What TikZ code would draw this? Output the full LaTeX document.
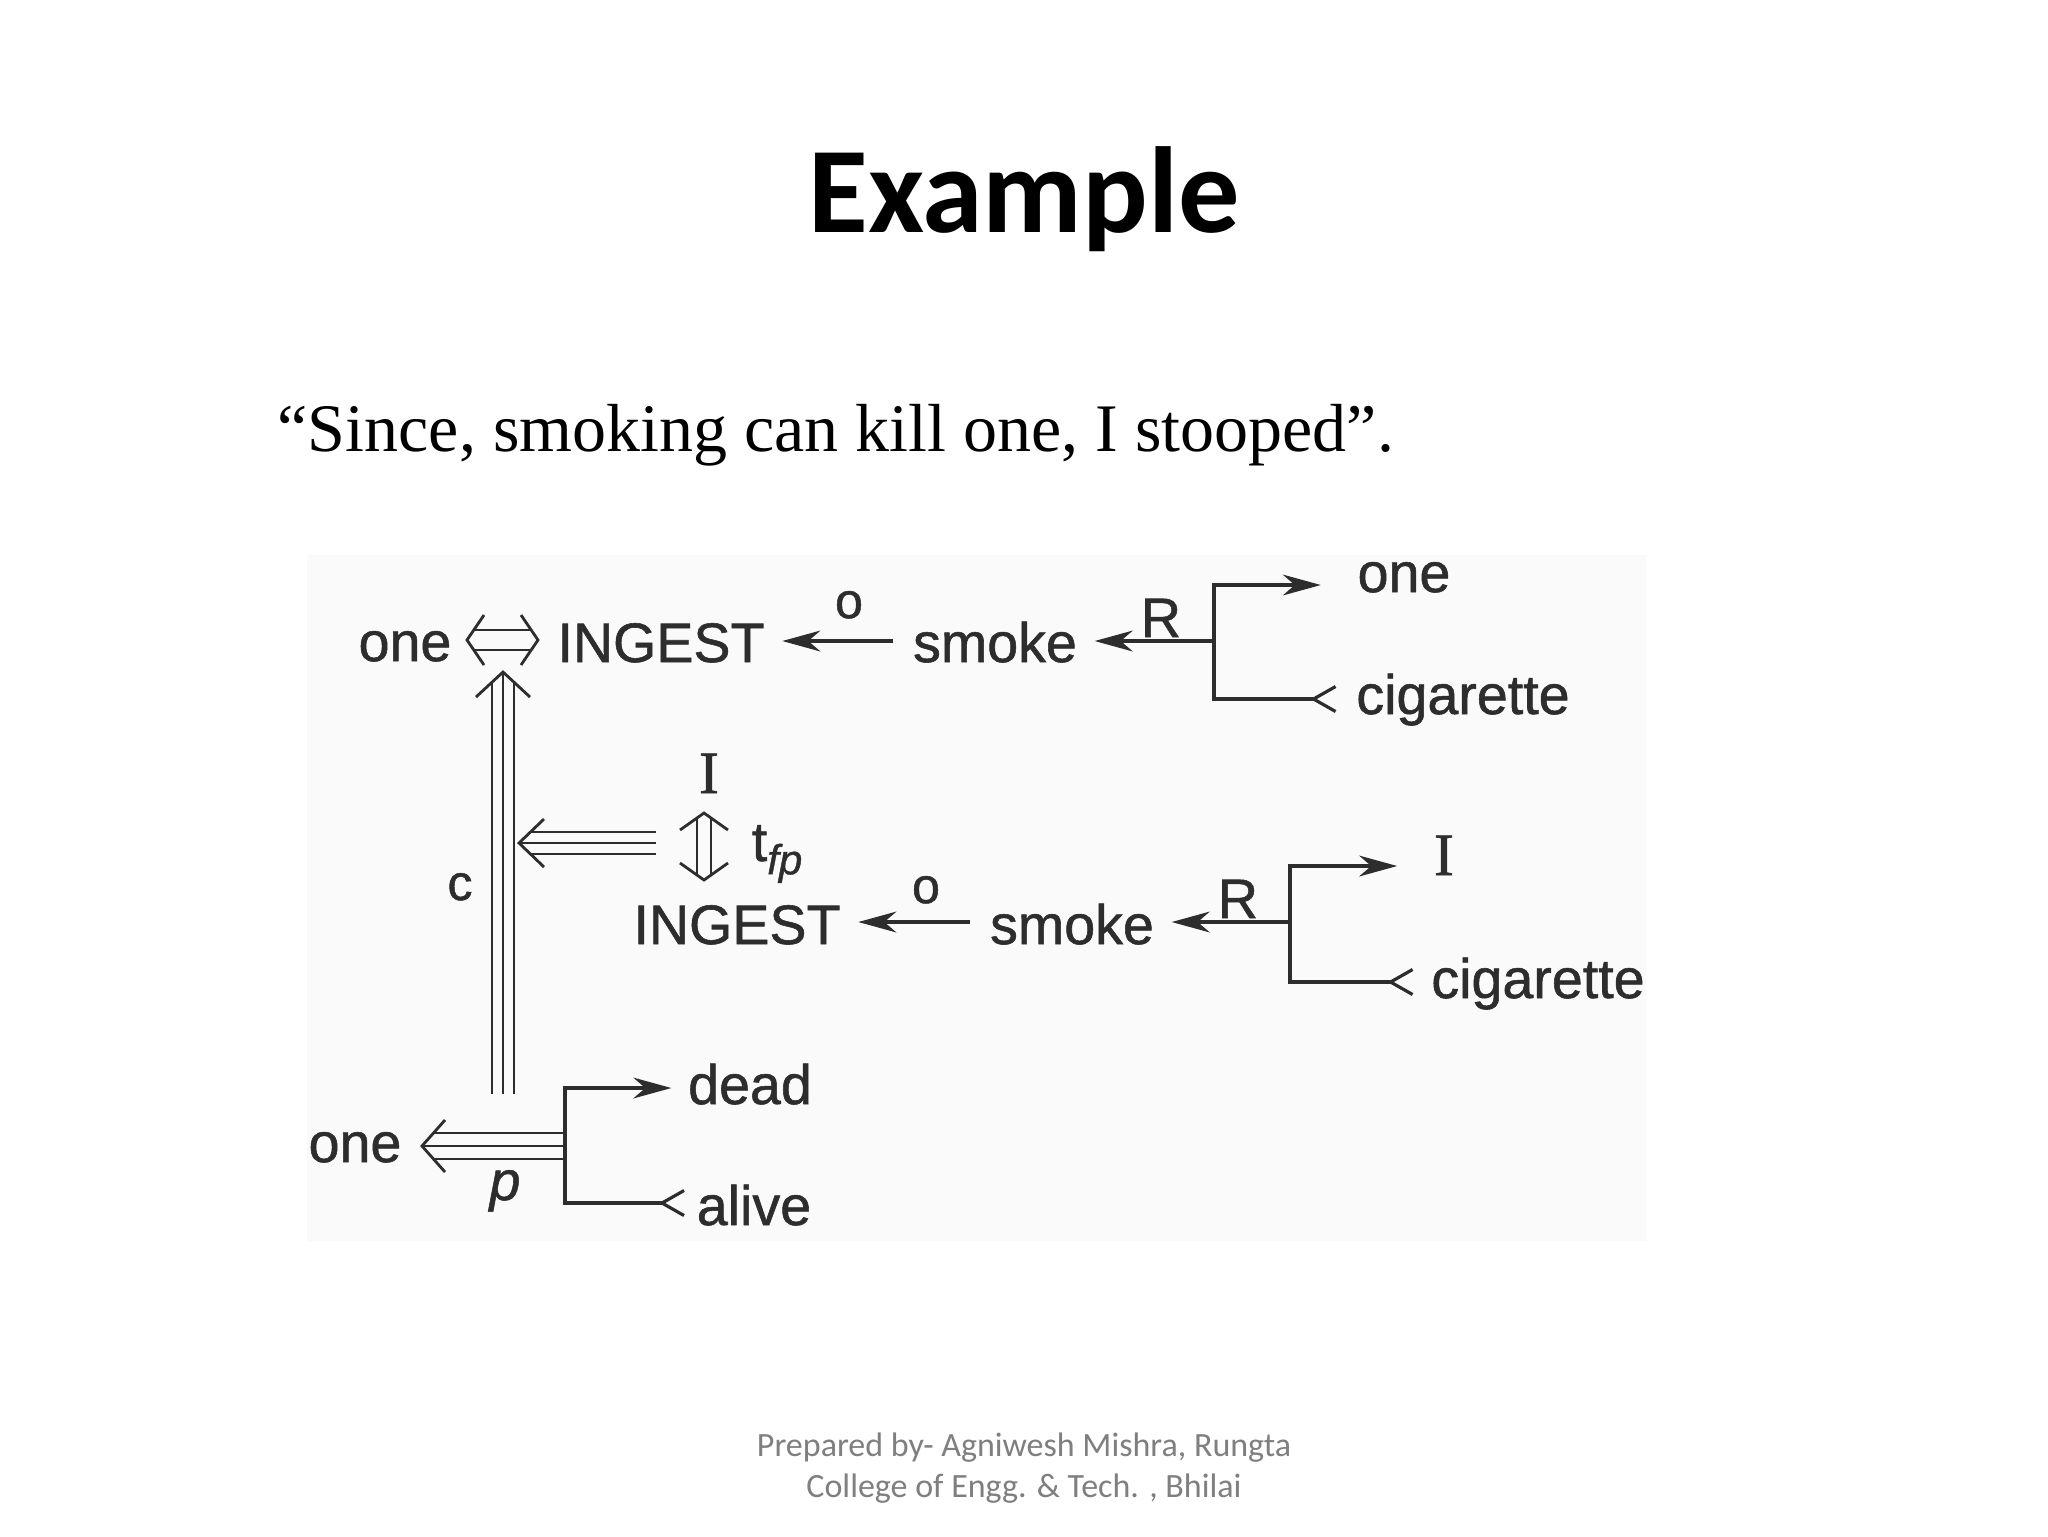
\documentclass[tikz,border=0pt]{standalone}
\usepackage{fontspec}
\setmainfont{Liberation Serif}
\setsansfont{Liberation Sans}
\newfontfamily\carlito{Carlito}
\newfontfamily\dsans[FakeBold=1]{Liberation Sans}
\newfontfamily\dserif[FakeBold=1]{Liberation Serif}
\usetikzlibrary{arrows.meta,calc}
\definecolor{footgray}{RGB}{127,127,127}
\definecolor{ink}{RGB}{45,45,45}
\definecolor{scanbg}{RGB}{250,250,250}
\tikzset{
  dtxt/.style={font=\dsans\fontsize{13.9pt}{16pt}\selectfont, inner sep=0pt, anchor=base, text=ink},
  stxt/.style={font=\dsans\fontsize{12.5pt}{14pt}\selectfont, inner sep=0pt, anchor=base, text=ink},
  serI/.style={font=\dserif\fontsize{15pt}{17pt}\selectfont, inner sep=0pt, anchor=base, text=ink},
  ln/.style={line width=0.8pt, draw=ink, line join=miter},
  arr/.style={ln, -{Stealth[length=9.5pt,width=5.2pt,inset=3pt]}},
  ml/.style={line width=0.7pt, draw=ink},
  ltm/.pic={\draw[ln] (22,-12.5) -- (0,0) -- (22,12.5);}
}
\begin{document}
\begin{tikzpicture}[x=0.25pt,y=-0.25pt]
\useasboundingbox[fill=white] (0,0) rectangle (2048,1536);
\fill[scanbg] (307,555) rectangle (1646,1241);

% title, subtitle, footer
\node[font=\carlito\bfseries\fontsize{30.6pt}{36pt}\selectfont, anchor=base, inner sep=0pt] (title) at (1024,232) {Example};
\node[font=\rmfamily\fontsize{17pt}{20pt}\selectfont, anchor=base west, inner sep=0pt] (sub) at (277,451) {“Since, smoking can kill one, I stooped”.};
\node[font=\carlito\fontsize{8.5pt}{10pt}\selectfont, text=footgray, anchor=base, inner sep=0pt] (foot1) at (1024,1456) {Prepared by- Agniwesh Mishra, Rungta};
\node[font=\carlito\fontsize{8.5pt}{10pt}\selectfont, text=footgray, anchor=base, inner sep=0pt] (foot2) at (1024,1497) {College of Engg. \& Tech. , Bhilai};

% diagram texts
\node[dtxt] (one1) at (405,661) {one};
\node[dtxt] (ing1) at (661,662) {INGEST};
\node[dtxt] (smk1) at (995,662) {smoke};
\node[dtxt] (one2) at (1404,592) {one};
\node[dtxt] (cig1) at (1463,714) {cigarette};
\node[stxt] (o1) at (849,618) {o};
\node[dtxt] (R1) at (1161,637) {R};
\node[serI] (I1) at (709,793) {I};
\node[dtxt, anchor=base west] (tfp) at (751,861) {t\raisebox{-0.45ex}{\fontsize{10.5pt}{12pt}\selectfont\itshape fp}};
\node[stxt] (c) at (460,900) {c};
\node[stxt] (o2) at (926,903) {o};
\node[dtxt] (ing2) at (737,944) {INGEST};
\node[dtxt] (smk2) at (1072,944) {smoke};
\node[dtxt] (R2) at (1238,918) {R};
\node[serI] (I2) at (1444,875) {I};
\node[dtxt] (cig2) at (1538,998) {cigarette};
\node[dtxt] (dead) at (750,1104) {dead};
\node[dtxt] (one3) at (355,1162) {one};
\node[dtxt, font=\dsans\itshape\fontsize{13.9pt}{16pt}\selectfont] (p) at (505,1200) {p};
\node[dtxt] (alive) at (754,1225) {alive};

% bracket coordinates
\coordinate (b1t) at (1214,585); \coordinate (b1m) at (1214,641); \coordinate (b1b) at (1214,699);
\coordinate (b2t) at (1290,866); \coordinate (b2m) at (1290,922); \coordinate (b2b) at (1290,982);
\coordinate (b3t) at (565,1088); \coordinate (b3m) at (565,1146); \coordinate (b3b) at (565,1203);

% row 1
\draw[arr, shorten <=4.75pt, shorten >=4.25pt] (smk1.west |- b1m) -- (ing1.east |- b1m);
\draw[arr, shorten >=4.25pt] (b1m) -- (b1m -| smk1.east);
\coordinate (c1a) at ($(b1b -| cig1.west)+(-42,0)$);
\draw[arr, shorten >=9pt] (c1a) -- (b1b) -- (b1t) -- (b1t -| one2.west);
\pic at (c1a) {ltm};

% double arrow one <=> INGEST
\coordinate (dl) at (467,640); \coordinate (dr) at (538,640);
\draw[ml] ($(dl)+(7,-10)$) -- ($(dr)+(-7,-10)$);
\draw[ml] ($(dl)+(7,10)$) -- ($(dr)+(-7,10)$);
\draw[ml] ($(dl)+(17,-25)$) -- (dl) -- ($(dl)+(17,25)$);
\draw[ml] ($(dr)+(-17,-25)$) -- (dr) -- ($(dr)+(-17,25)$);

% vertical triple arrow
\coordinate (va) at (503,672); \coordinate (vb) at (503,1094);
\draw[ml] ($(vb)+(-11,0)$) -- ($(va)+(-11,10)$);
\draw[ml] (vb) -- ($(va)+(0,1)$);
\draw[ml] ($(vb)+(11,0)$) -- ($(va)+(11,10)$);
\draw[ml] ($(va)+(-27,25)$) -- (va) -- ($(va)+(27,25)$);

% horizontal triple arrow row 2
\coordinate (ha) at (519,843); \coordinate (hb) at (656,843);
\draw[ml] ($(hb)+(0,-11)$) -- ($(ha)+(11,-11)$);
\draw[ml] (hb) -- ($(ha)+(1,0)$);
\draw[ml] ($(hb)+(0,11)$) -- ($(ha)+(11,11)$);
\draw[ml] ($(ha)+(25,-24)$) -- (ha) -- ($(ha)+(25,24)$);

% vertical double arrow I <-> INGEST
\coordinate (ua) at (704,813); \coordinate (ub) at (704,880);
\draw[ml] ($(ua)+(-7,5)$) -- ($(ub)+(-7,-5)$);
\draw[ml] ($(ua)+(7,5)$) -- ($(ub)+(7,-5)$);
\draw[ml] ($(ua)+(-24,17)$) -- (ua) -- ($(ua)+(24,17)$);
\draw[ml] ($(ub)+(-24,-17)$) -- (ub) -- ($(ub)+(24,-17)$);

% row 3
\draw[arr, shorten <=4.75pt, shorten >=4.25pt] (smk2.west |- b2m) -- (ing2.east |- b2m);
\draw[arr, shorten >=4.25pt] (b2m) -- (b2m -| smk2.east);
\coordinate (c2a) at ($(b2b -| cig2.west)+(-40,0)$);
\draw[arr, shorten >=9pt] (c2a) -- (b2b) -- (b2t) -- (b2t -| I2.west);
\pic at (c2a) {ltm};

% row 4
\coordinate (c3a) at ($(b3b -| alive.west)+(-34,0)$);
\draw[arr, shorten >=4pt] (c3a) -- (b3b) -- (b3t) -- (b3t -| dead.west);
\pic at (c3a) {ltm};
\coordinate (pa) at (422,1146);
\draw[ml] ($(b3m)+(0,-13)$) -- ($(pa)+(12,-13)$);
\draw[ml] (b3m) -- ($(pa)+(1,0)$);
\draw[ml] ($(b3m)+(0,13)$) -- ($(pa)+(12,13)$);
\draw[ml] ($(pa)+(23,-26)$) -- (pa) -- ($(pa)+(23,26)$);
\end{tikzpicture}
\end{document}
